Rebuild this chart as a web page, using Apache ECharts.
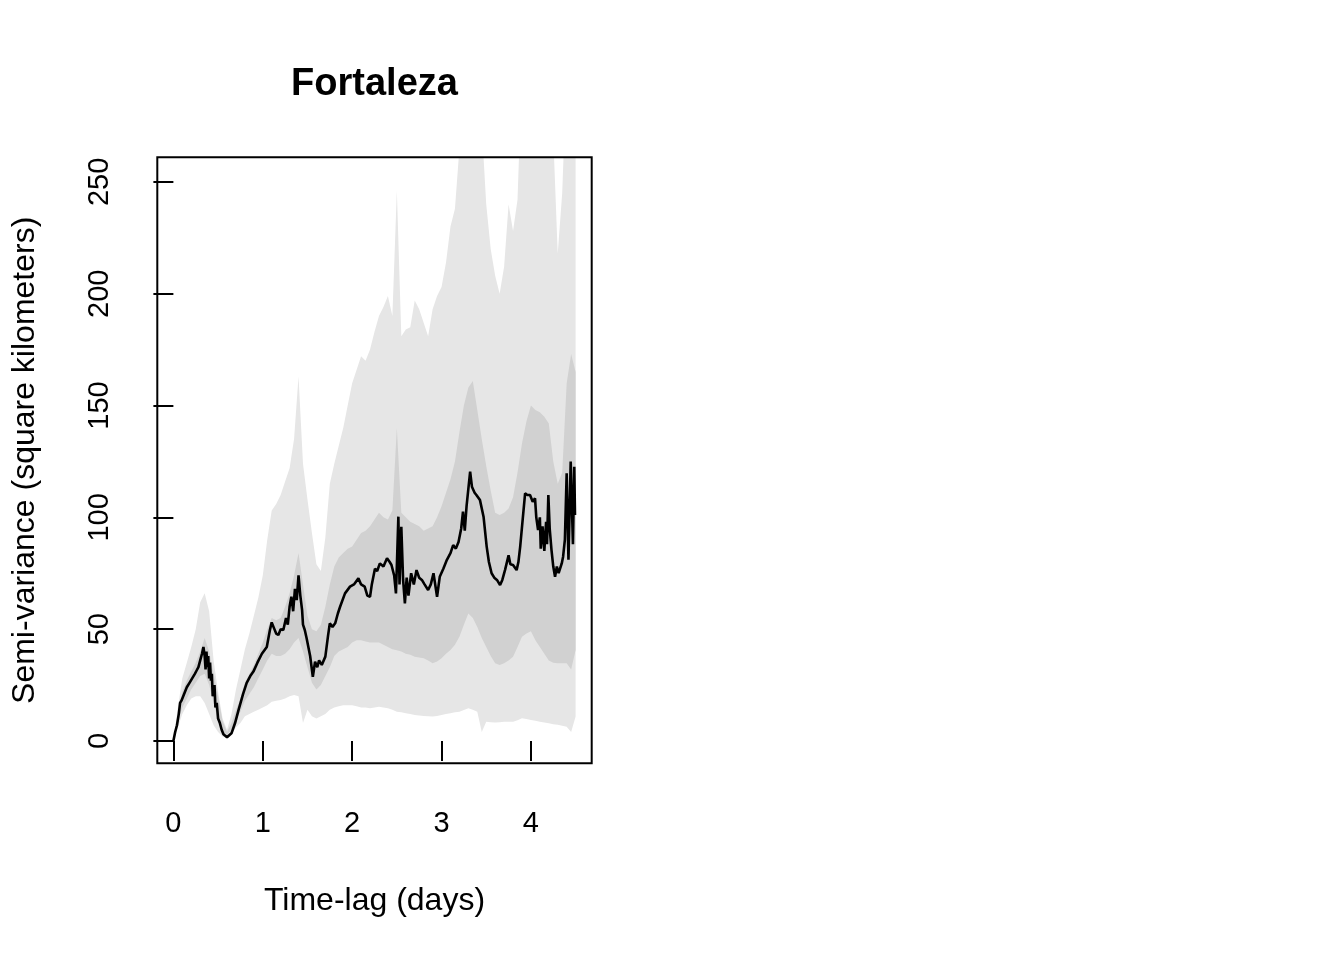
<!DOCTYPE html>
<html>
<head>
<meta charset="utf-8">
<title>Fortaleza</title>
<script src="https://cdn.jsdelivr.net/npm/echarts@6/dist/echarts.min.js"></script>
<style>
  html, body { margin: 0; padding: 0; background: #fff; }
  #chart { width: 1344px; height: 960px; }
</style>
</head>
<body>
<div id="chart"></div>
<script>
// semivariogram of the observed tracks (black line)
var meanLag = [0, 0.02, 0.04, 0.06, 0.075, 0.09, 0.11, 0.13, 0.15, 0.18,
  0.21, 0.24, 0.26, 0.28, 0.30, 0.32, 0.336, 0.35, 0.36, 0.37,
  0.38, 0.39, 0.40, 0.41, 0.42, 0.43, 0.44, 0.46, 0.47, 0.485,
  0.50, 0.52, 0.54, 0.56, 0.58, 0.60, 0.62, 0.65, 0.69, 0.73,
  0.78, 0.82, 0.86, 0.895, 0.94, 0.99, 1.045, 1.08, 1.10, 1.13,
  1.15, 1.175, 1.20, 1.23, 1.26, 1.28, 1.30, 1.32, 1.34, 1.36,
  1.38, 1.40, 1.42, 1.44, 1.45, 1.47, 1.49, 1.51, 1.53, 1.56,
  1.585, 1.61, 1.63, 1.66, 1.70, 1.73, 1.75, 1.78, 1.81, 1.84,
  1.865, 1.92, 1.976, 2.02, 2.07, 2.10, 2.14, 2.17, 2.20, 2.22,
  2.255, 2.28, 2.31, 2.35, 2.39, 2.42, 2.44, 2.47, 2.49, 2.50,
  2.517, 2.53, 2.55, 2.57, 2.59, 2.61, 2.63, 2.66, 2.69, 2.72,
  2.75, 2.78, 2.81, 2.85, 2.88, 2.91, 2.95, 2.98, 3.02, 3.06,
  3.10, 3.13, 3.16, 3.19, 3.22, 3.24, 3.26, 3.28, 3.32, 3.34,
  3.37, 3.39, 3.43, 3.47, 3.505, 3.53, 3.56, 3.59, 3.62, 3.655,
  3.68, 3.71, 3.75, 3.77, 3.80, 3.84, 3.86, 3.88, 3.91, 3.935,
  3.96, 3.99, 4.02, 4.046, 4.06, 4.08, 4.10, 4.11, 4.13, 4.15,
  4.17, 4.18, 4.195, 4.21, 4.23, 4.25, 4.27, 4.29, 4.31, 4.345,
  4.36, 4.38, 4.40, 4.42, 4.445, 4.47, 4.485, 4.493];
var meanSemiVar = [0, 4, 7, 12, 17, 18, 20, 22, 24, 26,
  28, 30, 31.5, 33, 36, 39, 42, 38, 32, 40,
  33, 38, 28, 35, 27, 30, 20, 25, 15, 17,
  10, 8, 5, 3, 2.5, 1.7, 2.5, 3.4, 8, 14,
  21, 26, 29, 31, 35, 39, 42, 49.6, 53, 50,
  48, 47.4, 50, 49.6, 55, 52, 60, 64.5, 58, 68,
  63, 74, 65, 58.5, 52, 49.6, 46, 42, 38, 28.7,
  35.4, 33, 36, 34, 37.7, 47, 52.6, 51, 52.6, 57,
  60, 66, 69, 70, 72.7, 70, 69, 65, 64.5, 70,
  77, 76, 79.4, 78, 81.7, 80, 78.7, 74, 66, 78,
  100.3, 70, 95.8, 72, 61.5, 73, 65, 75, 70, 76.4,
  73, 72, 70, 67.5, 70, 75, 64.5, 73.4, 77, 81,
  84, 87.6, 86, 89, 95, 102.5, 94, 105, 120.4, 113.7,
  111, 110, 107.7, 100.3, 86.9, 80, 75, 73, 72, 69.7,
  72, 76.4, 83, 79, 78.7, 76.4, 80, 86.9, 100, 110.7,
  110, 110, 107, 108.5, 100, 94.3, 100, 86, 96, 85,
  98, 88, 110, 95, 85.4, 78, 73.4, 78, 75, 79.4,
  82.4, 90, 119.7, 81, 124.9, 88, 122.6, 101];

// envelopes from the simulations, sampled every 0.05 day
var bandLag = [0, 0.05, 0.1, 0.15, 0.2, 0.25, 0.3, 0.35, 0.4, 0.45,
  0.5, 0.55, 0.6, 0.65, 0.7, 0.75, 0.8, 0.85, 0.9, 0.95,
  1, 1.05, 1.1, 1.15, 1.2, 1.25, 1.3, 1.35, 1.4, 1.45,
  1.5, 1.55, 1.6, 1.65, 1.7, 1.75, 1.8, 1.85, 1.9, 1.95,
  2, 2.05, 2.1, 2.15, 2.2, 2.25, 2.3, 2.35, 2.4, 2.45,
  2.5, 2.55, 2.6, 2.65, 2.7, 2.75, 2.8, 2.85, 2.9, 2.95,
  3, 3.05, 3.1, 3.15, 3.2, 3.25, 3.3, 3.35, 3.4, 3.45,
  3.5, 3.55, 3.6, 3.65, 3.7, 3.75, 3.8, 3.85, 3.9, 3.95,
  4, 4.05, 4.1, 4.15, 4.2, 4.25, 4.3, 4.35, 4.4, 4.45, 4.5];
var lower95 = [0, 6, 12, 16, 19, 20, 20, 17, 12, 7,
  4, 2, 1.5, 3, 6, 8, 11, 12, 13, 14,
  15, 16, 17.5, 18, 18.3, 19, 20, 20.5, 20, 8,
  14, 11, 10, 11, 12, 14, 15, 15.5, 16, 16,
  16, 15.5, 15, 15, 14.6, 15, 15.3, 15, 14.6, 14,
  13, 12.8, 12.4, 12, 11.6, 11.4, 11.2, 11, 10.9, 11.2,
  11.6, 12, 12.4, 12.8, 13.1, 13.8, 14.6, 14, 13.1, 4,
  8.6, 8.4, 8.3, 8.4, 8.6, 8.6, 8.6, 9.2, 10.1, 9.8,
  9.4, 9, 8.6, 8.2, 7.9, 7.5, 7.2, 6.8, 6.4, 4, 10.9];
var lower50 = [0, 8, 15, 19, 23, 26, 29, 30, 25, 17,
  9, 4, 2.5, 5, 9, 13, 18, 21, 24, 28,
  32, 36, 39, 38, 38, 39, 41, 44, 46, 40,
  33, 26, 23, 25, 29, 33, 38, 40, 41, 42,
  44, 45, 45, 44.5, 44, 44, 44, 43, 42, 41,
  40.5, 40, 39, 38.5, 37.7, 37.3, 37, 36, 34.7, 35.5,
  37, 39, 40.7, 43, 46.6, 52, 57, 55, 51, 46,
  42, 38, 34.7, 34, 34.7, 36, 37.7, 42, 46.6, 48,
  49, 45, 42, 39, 36, 35, 34.7, 34.7, 34.7, 32, 40.7];
var upper50 = [0, 12, 22, 27, 31, 35, 40, 46, 40, 30,
  20, 9, 4, 8, 14, 19, 26, 30, 34, 39,
  44, 50, 55, 54, 55, 60, 66, 74, 84, 70,
  56, 50, 49, 52, 60, 70, 78, 82, 84, 86,
  87, 90, 93, 94, 96, 99, 102, 100, 99, 103,
  140, 102, 100, 98, 97, 96, 94, 95, 96, 100,
  105, 111, 117, 125, 138, 150, 158, 161, 148, 135,
  123, 112, 102, 101, 102, 104, 109, 120, 133, 143,
  150, 148, 147, 145, 142, 125, 115, 120, 160, 173, 165];
var upper95 = [0, 15, 28, 35, 42, 50, 62, 66, 58, 36,
  22, 10, 5, 12, 23, 32, 41, 48, 56, 64,
  74, 90, 103, 106, 110, 116, 122, 135, 163, 124,
  108, 93, 79, 76, 91, 115, 124, 132, 140, 150,
  160, 166, 172, 170, 175, 183, 190, 194, 199, 190,
  246, 181, 184, 185, 197, 193, 187, 181, 193, 199,
  203, 214, 230, 238, 265, 300, 300, 300, 300, 275,
  240, 220, 208, 200, 212, 240, 228, 242, 300, 300,
  300, 300, 300, 300, 300, 270, 218, 245, 300, 300, 300];

var xTicks = [0, 1, 2, 3, 4];
var yTicks = [0, 50, 100, 150, 200, 250];

var font = "'Liberation Sans', Arial, Helvetica, sans-serif";

function pairs(xs, ys) {
  var out = [];
  for (var i = 0; i < xs.length; i++) out.push([xs[i], ys[i]]);
  return out;
}
function rows(xs, lo, hi) {
  var out = [];
  for (var i = 0; i < xs.length; i++) out.push([xs[i], lo[i], hi[i]]);
  return out;
}

// envelope polygon: walk the upper edge forward, the lower edge back
function bandRenderer(lo, hi, color) {
  return function (params, api) {
    if (params.dataIndex !== 0) return null;
    var pts = [];
    for (var i = 0; i < bandLag.length; i++) pts.push(api.coord([bandLag[i], hi[i]]));
    for (var j = bandLag.length - 1; j >= 0; j--) pts.push(api.coord([bandLag[j], lo[j]]));
    return {
      type: 'polygon',
      shape: { points: pts },
      style: { fill: color, stroke: null }
    };
  };
}

var chart = echarts.init(document.getElementById('chart'), null, { renderer: 'canvas' });

var option = {
  animation: false,
  backgroundColor: '#ffffff',
  title: {
    text: 'Fortaleza',
    left: 369.5,
    top: 61,
    textAlign: 'center',
    textStyle: { fontSize: 38, fontWeight: 'bold', color: '#000', fontFamily: font }
  },
  grid: {
    show: true,
    z: 3,
    left: 157.3,
    top: 157.3,
    width: 434.4,
    height: 606,
    backgroundColor: 'transparent',
    borderColor: '#000',
    borderWidth: 2
  },
  xAxis: {
    type: 'value',
    min: -0.18,
    max: 4.68,
    name: 'Time-lag (days)',
    nameLocation: 'middle',
    nameGap: 122,
    nameTextStyle: { fontSize: 32, color: '#000', fontFamily: font },
    axisLine: { show: false },
    splitLine: { show: false },
    axisTick: {
      show: true, inside: false, length: 20,
      customValues: xTicks,
      lineStyle: { color: '#000', width: 2 }
    },
    axisLabel: {
      customValues: xTicks,
      margin: 46,
      fontSize: 29,
      color: '#000',
      fontFamily: font
    }
  },
  yAxis: {
    type: 'value',
    min: -10,
    max: 261,
    name: 'Semi-variance (square kilometers)',
    nameLocation: 'middle',
    nameRotate: 90,
    nameGap: 116,
    nameTextStyle: { fontSize: 32, color: '#000', fontFamily: font },
    axisLine: { show: false },
    splitLine: { show: false },
    axisTick: {
      show: true, inside: false, length: 20,
      customValues: yTicks,
      lineStyle: { color: '#000', width: 2 }
    },
    axisLabel: {
      customValues: yTicks,
      rotate: 90,
      margin: 43,
      fontSize: 29,
      color: '#000',
      fontFamily: font
    }
  },
  series: [
    {
      name: '95% envelope', type: 'custom', silent: true, clip: true,
      data: rows(bandLag, lower95, upper95),
      encode: { x: 0, y: [1, 2] },
      renderItem: bandRenderer(lower95, upper95, '#e6e6e6'),
      z: 1
    },
    {
      name: '50% envelope', type: 'custom', silent: true, clip: true,
      data: rows(bandLag, lower50, upper50),
      encode: { x: 0, y: [1, 2] },
      renderItem: bandRenderer(lower50, upper50, '#d1d1d1'),
      z: 2
    },
    {
      name: 'semi-variance', type: 'line',
      data: pairs(meanLag, meanSemiVar),
      showSymbol: false,
      lineStyle: { color: '#000', width: 2.6 },
      z: 4
    }
  ]
};

chart.setOption(option);
</script>
</body>
</html>
